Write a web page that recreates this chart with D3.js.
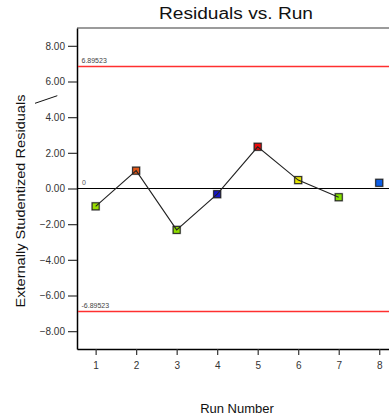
<!DOCTYPE html>
<html>
<head>
<meta charset="utf-8">
<script src="https://cdn.jsdelivr.net/npm/d3@7"></script>
<style>
  html, body { margin: 0; padding: 0; background: #fff; }
  svg { display: block; font-family: "Liberation Sans", Arial, sans-serif; }
</style>
</head>
<body>
<svg id="chart" width="389" height="420"></svg>
<script>
// ---- data ----
const runs = [1, 2, 3, 4, 5, 6, 7, 8];
const residuals = [-1.00, 1.00, -2.32, -0.32, 2.34, 0.47, -0.49, 0.32];
const pointColors = ["#9ade00", "#e0581a", "#8edc00", "#1616c8", "#ee0a0a", "#e4e400", "#84e000", "#0c5ee8"];
const connected = [true, true, true, true, true, true, true, false];
const yTicks = [-8, -6, -4, -2, 0, 2, 4, 6, 8];
const xTicks = [1, 2, 3, 4, 5, 6, 7, 8];
const limits = [6.89523, -6.89523];
const limitLabels = ["6.89523", "-6.89523"];
const zeroLabel = "0";
const title = "Residuals vs. Run";
const xTitle = "Run Number";
const yTitle = "Externally Studentized Residuals";

// ---- layout ----
const svg = d3.select("#chart");
const mLeft = 77, mTop = 28, mBottom = 349, mRight = 389;
const x = d3.scaleLinear().domain([0.54, 8.5]).range([mLeft, 399.5]);
const y = d3.scaleLinear().domain([-9, 9]).range([mBottom, mTop]);

// title
svg.append("text")
  .attr("x", 236).attr("y", 18.5)
  .attr("text-anchor", "middle")
  .attr("font-size", 16)
  .attr("textLength", 154).attr("lengthAdjust", "spacingAndGlyphs")
  .attr("fill", "#111")
  .text(title);

// top frame line
svg.append("line")
  .attr("x1", mLeft).attr("x2", mRight)
  .attr("y1", mTop).attr("y2", mTop)
  .attr("stroke", "#7a7a7a").attr("stroke-width", 1.5);

// y axis
const yAxis = d3.axisLeft(y).tickValues(yTicks).tickFormat(d3.format(".2f"))
  .tickSize(9).tickPadding(3).tickSizeOuter(0);
const gy = svg.append("g").attr("transform", `translate(${mLeft},0)`).call(yAxis);
gy.select(".domain").attr("stroke", "#000").attr("stroke-width", 1.5);
gy.selectAll(".tick line").attr("stroke", "#333").attr("stroke-width", 1.2);
gy.selectAll(".tick text").attr("font-size", 10).attr("fill", "#333")
  .attr("font-family", "Liberation Sans, Arial, sans-serif");

// x axis
const xAxis = d3.axisBottom(x).tickValues(xTicks).tickFormat(d3.format("d"))
  .tickSize(6).tickPadding(7).tickSizeOuter(0);
const gx = svg.append("g").attr("transform", `translate(0,${mBottom})`).call(xAxis);
gx.select(".domain").attr("stroke", "#000").attr("stroke-width", 1.5);
gx.selectAll(".tick line").attr("stroke", "#333").attr("stroke-width", 1.2);
gx.selectAll(".tick text").attr("font-size", 10).attr("fill", "#333")
  .attr("font-family", "Liberation Sans, Arial, sans-serif");

// zero line
svg.append("line")
  .attr("x1", mLeft).attr("x2", mRight)
  .attr("y1", y(0)).attr("y2", y(0))
  .attr("stroke", "#000").attr("stroke-width", 1.2);
svg.append("text")
  .attr("x", 82).attr("y", y(0) - 4)
  .attr("font-size", 7).attr("fill", "#555")
  .text(zeroLabel);

// limit lines
limits.forEach((v, i) => {
  const ly = Math.round(y(v)) + 0.5;
  svg.append("line")
    .attr("x1", mLeft + 1).attr("x2", mRight)
    .attr("y1", ly).attr("y2", ly)
    .attr("stroke", "#ff3030").attr("stroke-width", 1.5);
  svg.append("text")
    .attr("x", 81.5).attr("y", ly - 4)
    .attr("font-size", 7).attr("fill", "#444")
    .text(limitLabels[i]);
});

// points
const pts = runs.map((r, i) => ({ r, v: residuals[i], c: pointColors[i], conn: connected[i] }));
const s = 7;
svg.append("g").selectAll("rect").data(pts).join("rect")
  .attr("x", d => x(d.r) - s / 2 - 1).attr("y", d => y(d.v) - s / 2 - 1)
  .attr("width", s + 2).attr("height", s + 2)
  .attr("fill", "#bdbdbd");
svg.append("g").selectAll("rect").data(pts).join("rect")
  .attr("x", d => x(d.r) - s / 2).attr("y", d => y(d.v) - s / 2)
  .attr("width", s).attr("height", s)
  .attr("fill", d => d.c)
  .attr("stroke", "#222").attr("stroke-width", 1);

// connecting line
const line = d3.line().x(d => x(d.r)).y(d => y(d.v));
svg.append("path")
  .datum(pts.filter(d => d.conn))
  .attr("d", line)
  .attr("fill", "none").attr("stroke", "#222").attr("stroke-width", 1.1);

// small slash mark near y title
svg.append("line")
  .attr("x1", 35).attr("y1", 103.3).attr("x2", 57.3).attr("y2", 95.7)
  .attr("stroke", "#111").attr("stroke-width", 1);

// axis titles
svg.append("text")
  .attr("transform", `translate(24.5,201) rotate(-90)`)
  .attr("text-anchor", "middle")
  .attr("font-size", 12).attr("fill", "#111")
  .attr("textLength", 213).attr("lengthAdjust", "spacingAndGlyphs")
  .text(yTitle);
svg.append("text")
  .attr("x", 237).attr("y", 413)
  .attr("text-anchor", "middle")
  .attr("font-size", 13).attr("fill", "#111")
  .text(xTitle);
</script>
</body>
</html>
